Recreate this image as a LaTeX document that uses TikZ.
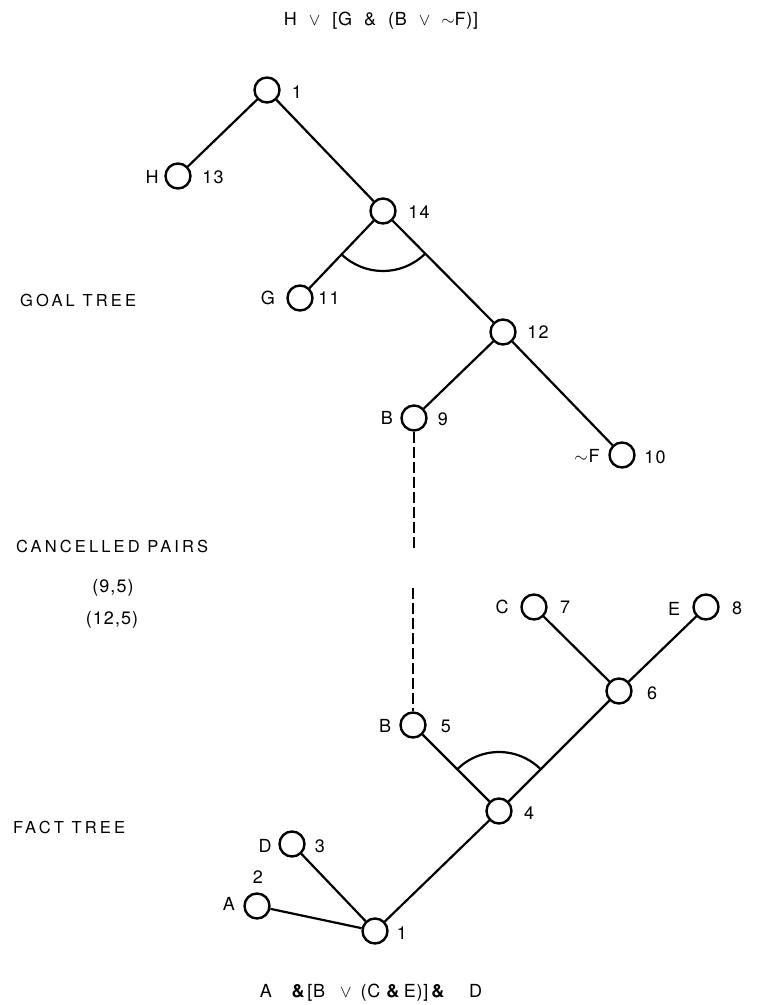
\documentclass[tikz,border=0pt]{standalone}
\usepackage{fontspec}
\setmainfont{TeX Gyre Heros}
\begin{document}
\begin{tikzpicture}[x=1pt,y=-1pt,
  vtx/.style={circle,draw,line width=2.4pt,minimum size=25pt,inner sep=0pt},
  edge/.style={line width=2.2pt},
  andarc/.style={line width=2.2pt},
  cancel/.style={line width=2.2pt,dash pattern=on 11pt off 4pt},
  lbl/.style={font=\fontsize{18}{21}\selectfont\addfontfeature{LetterSpace=6},inner sep=0pt},
  sidecap/.style={font=\fontsize{16.5}{20}\selectfont\addfontfeature{LetterSpace=19},inner sep=0pt},
  expr/.style={font=\fontsize{18}{21}\selectfont\addfontfeature{LetterSpace=4},inner sep=0pt}
]
\useasboundingbox (0,0) rectangle (770,1005);

% ---------- goal tree ----------
\node[vtx] (g1)  at (267,90)  {};
\node[vtx] (g13) at (178,176) {};
\node[vtx] (g14) at (383,211) {};
\node[vtx] (g11) at (300,298) {};
\node[vtx] (g12) at (503,332) {};
\node[vtx] (g9)  at (414,418) {};
\node[vtx] (g10) at (622,455) {};

\draw[edge] (g1) -- (g13);
\draw[edge] (g1) -- (g14);
\draw[edge] (g14) -- (g11);
\draw[edge] (g14) -- (g12);
\draw[edge] (g12) -- (g9);
\draw[edge] (g12) -- (g10);
\draw[andarc] ([shift={(134:60)}]g14.center) arc[start angle=226,end angle=314,radius=60pt];

\node[lbl] (lg1)  at (297,92)  {1};
\node[lbl] (lgH)  at (152,177) {H};
\node[lbl] (lg13) at (213,177) {13};
\node[lbl] (lg14) at (419,212) {14};
\node[lbl] (lgG)  at (268,298) {G};
\node[lbl] (lg11) at (329,298) {11};
\node[lbl] (lg12) at (538,332) {12};
\node[lbl] (lgB)  at (387,418) {B};
\node[lbl] (lg9)  at (443,419) {9};
\node[lbl] (lgF)  at (587,456) {$\sim$\kern1ptF};
\node[lbl] (lg10) at (655,457) {10};

% ---------- fact tree ----------
\node[vtx] (f7) at (534,607) {};
\node[vtx] (f8) at (706,607) {};
\node[vtx] (f6) at (619,691) {};
\node[vtx] (f5) at (413,725) {};
\node[vtx] (f4) at (499,811) {};
\node[vtx] (f3) at (292,844) {};
\node[vtx] (f2) at (257,906) {};
\node[vtx] (f1) at (375,931) {};

\draw[edge] (f7) -- (f6);
\draw[edge] (f8) -- (f6);
\draw[edge] (f6) -- (f4);
\draw[edge] (f5) -- (f4);
\draw[edge] (f4) -- (f1);
\draw[edge] (f3) -- (f1);
\draw[edge] (f2) -- (f1);
\draw[andarc] ([shift={(-44:59)}]f4.center) arc[start angle=44,end angle=136,radius=59pt];

\node[lbl] (lfC) at (502,607) {C};
\node[lbl] (lf7) at (565,607) {7};
\node[lbl] (lfE) at (674,609) {E};
\node[lbl] (lf8) at (737,608) {8};
\node[lbl] (lf6) at (652,693) {6};
\node[lbl] (lfB) at (385,726) {B};
\node[lbl] (lf5) at (446,726) {5};
\node[lbl] (lf4) at (529,813) {4};
\node[lbl] (lfD) at (265,846) {D};
\node[lbl] (lf3) at (320,846) {3};
\node[lbl] (lf2) at (258,877) {2};
\node[lbl] (lfA) at (229,904) {A};
\node[lbl] (lf1) at (402,933) {1};

% ---------- cancellation link ----------
\coordinate (c1) at (414,548);
\coordinate (c2) at (413,588);
\draw[cancel] (g9) -- (c1);
\draw[cancel] (c2) -- (f5);

% ---------- captions ----------
\node[expr] (top) at (381,21) {H\hspace{12pt}$\vee$\hspace{12pt}[G\hspace{12pt}\&\hspace{12pt}(B\hspace{12pt}$\vee$\hspace{11pt}$\sim$F)]};
\node[expr] (bot) at (371,993) {A\hspace{19pt}\textbf{\&}\kern2pt[B\hspace{15pt}$\vee$\hspace{9pt}(C\kern6pt\textbf{\&}\kern4ptE)]\kern3pt\textbf{\&}\hspace{24pt}D};

\node[sidecap,anchor=west] (goal) at (20,300) {GOAL TREE};
\node[sidecap,anchor=west] (canc) at (16,546) {CANCELLED PAIRS};
\node[lbl] (p1) at (113,588) {(9,5)};
\node[lbl] (p2) at (112,620) {(12,5)};
\node[sidecap,anchor=west] (fact) at (13,827) {FACT TREE};
\end{tikzpicture}
\end{document}
